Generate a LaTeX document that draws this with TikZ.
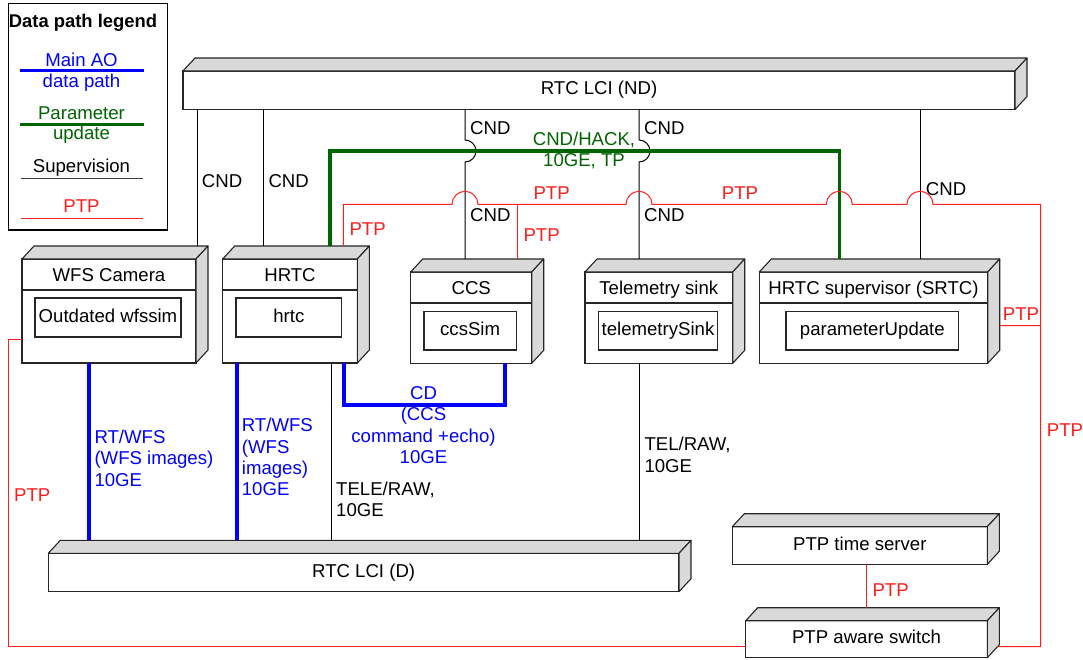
\documentclass[tikz,border=0pt]{standalone}
\usepackage{fontspec}
\setmainfont{Liberation Sans}
\usetikzlibrary{calc}
\definecolor{pgreen}{RGB}{0,100,0}
\definecolor{facegray}{RGB}{217,217,217}
\definecolor{ptpred}{RGB}{255,30,30}
\tikzset{
  front/.style={draw=black!85, fill=white, line width=1.1pt, outer sep=0pt, inner sep=0pt, anchor=north west},
  face/.style={draw=black!85, fill=facegray, line width=1.1pt, line join=round},
  inbox/.style={draw=black!85, line width=1.1pt, outer sep=0pt, inner sep=0pt, anchor=north west, text height=13.3pt, text depth=3.9pt},
  bartext/.style={text height=13.3pt, text depth=3.9pt},
  title/.style={inner sep=0pt, anchor=base},
  lbl/.style={inner sep=0pt, anchor=base west},
  mlbl/.style={inner sep=0pt, anchor=north west, align=left},
  mlblc/.style={inner sep=0pt, anchor=north, align=center},
  sup/.style={draw=black, line width=1pt},
  param/.style={draw=pgreen, line width=3.6pt},
  mainao/.style={draw=blue, line width=3.6pt},
  ptp/.style={draw=ptpred, line width=1pt},
}
\newcommand\mkcube[1]{%
  \draw[face] (#1.north west) -- ++(12,-13) -- ($(#1.north east)+(12,-13)$) -- (#1.north east) -- cycle;
  \draw[face] (#1.north east) -- ++(12,-13) -- ($(#1.south east)+(12,-13)$) -- (#1.south east) -- cycle;}
\begin{document}
\begin{tikzpicture}[x=1pt,y=-1pt,font=\fontsize{18.6pt}{21.2pt}\selectfont]
\useasboundingbox[fill=white] (0,0) rectangle (1083,659);

% ---------- legend ----------
\node[draw=black, line width=1.2pt, minimum width=159pt, minimum height=226.7pt, anchor=north west, outer sep=0pt, inner sep=0pt] (legend) at (8.3,3.3) {};
\node[title, font=\fontsize{18.4pt}{21.2pt}\selectfont\bfseries] (legtitle) at (83,27.5) {Data path legend};
\node[title, text=blue] (legmain1) at (81.5,66.4) {Main AO};
\node[title, text=blue] (legmain2) at (81.5,87.1) {data path};
\node[title, text=pgreen] (legpar1) at (81.5,119.8) {Parameter};
\node[title, text=pgreen] (legpar2) at (81.5,139.8) {update};
\node[title] (legsup) at (81.5,172.4) {Supervision};
\node[title, text=ptpred] (legptp) at (81.5,212.4) {PTP};
\draw[mainao, line width=3.4pt] (20,70.7) -- (144,70.7);
\draw[param, line width=3.4pt] (20,124.3) -- (144,124.3);
\draw[draw=black!75, line width=1.3pt] (21,178.3) -- (143,178.3);
\draw[ptp] (21,218.3) -- (143,218.3);

% ---------- boxes ----------
\node[front, bartext, minimum width=832pt, minimum height=38.5pt] (nd) at (183,71) {RTC LCI (ND)};
\node[front, minimum width=174pt, minimum height=104pt] (wfs) at (22,259) {};
\node[front, minimum width=134.6pt, minimum height=104pt] (hrtc) at (222.7,259) {};
\node[front, minimum width=121pt, minimum height=91.3pt] (ccs) at (410.7,272) {};
\node[front, minimum width=147.7pt, minimum height=91.3pt] (tel) at (585,272) {};
\node[front, minimum width=228.4pt, minimum height=91.3pt] (srtc) at (759.3,272) {};
\node[front, bartext, minimum width=630.7pt, minimum height=38.4pt] (lcid) at (48.3,553.3) {RTC LCI (D)};
\node[front, bartext, minimum width=255pt, minimum height=37.6pt] (ts) at (732.3,526.7) {PTP time server};
\node[front, bartext, minimum width=241.6pt, minimum height=37pt] (sw) at (745.7,620.7) {PTP aware switch};
\foreach \b in {nd,wfs,hrtc,ccs,tel,srtc,lcid,ts,sw} {\mkcube{\b}}

% header separators
\foreach \b in {wfs,hrtc,ccs,tel,srtc} {
  \draw[draw=black!85, line width=1.1pt] ($(\b.north west)+(0,31)$) -- ($(\b.north east)+(0,31)$);
}
% titles
\node[title] (wfs-t) at (109,281.6) {WFS Camera};
\node[title] (hrtc-t) at (290,281.6) {HRTC};
\node[title] (ccs-t) at (471.2,294.6) {CCS};
\node[title] (tel-t) at (658.8,294.6) {Telemetry sink};
\node[title] (srtc-t) at (873.5,294.6) {HRTC supervisor (SRTC)};
% inner components
\node[inbox, minimum width=146pt, minimum height=39pt] (wfs-i) at (35,298) {Outdated wfssim};
\node[inbox, minimum width=105.7pt, minimum height=39pt] (hrtc-i) at (236,298) {hrtc};
\node[inbox, minimum width=92.3pt, minimum height=38.3pt] (ccs-i) at (424,311.7) {ccsSim};
\node[inbox, minimum width=119.4pt, minimum height=38.3pt] (tel-i) at (598.3,311.7) {telemetrySink};
\node[inbox, minimum width=172.7pt, minimum height=38.3pt] (srtc-i) at (786,311.7) {parameterUpdate};

% ---------- supervision (CND) ----------
\draw[sup] ($(nd.south west)+(14,0)$) -- ($(wfs.north east)+(1,-13)$);
\draw[sup] ($(nd.south west)+(80.3,0)$) -- ($(hrtc.north west)+(40.6,-13)$);
\draw[sup] ($(nd.south west)+(282,0)$) -- (465,140) arc[start angle=90, end angle=-90, radius=11pt] -- ($(ccs.north west)+(54.3,-13)$);
\draw[sup] ($(nd.south west)+(456,0)$) -- (639,140) arc[start angle=90, end angle=-90, radius=11pt] -- ($(tel.north west)+(54,-13)$);
\draw[sup] ($(nd.south west)+(737,0)$) -- ($(srtc.north west)+(160.7,-13)$);
\draw[sup] ($(hrtc.south west)+(108.3,0)$) -- ($(lcid.north west)+(282.7,-13)$);
\draw[sup] ($(tel.south west)+(54,0)$) -- ($(lcid.north west)+(590.7,-13)$);

% ---------- parameter update ----------
\draw[param] ($(hrtc.north west)+(107.3,-13)$) -- (330,151) -- (839.3,151) -- ($(srtc.north west)+(80,-13)$);

% ---------- main AO data path ----------
\draw[mainao] ($(wfs.south west)+(67,0)$) -- ($(lcid.north west)+(40.7,-13)$);
\draw[mainao] ($(hrtc.south west)+(14,0)$) -- ($(lcid.north west)+(188.4,-13)$);
\draw[mainao] ($(hrtc.south west)+(121.3,0)$) -- (344,405) -- (505,405) -- ($(ccs.south west)+(94.3,0)$);

% ---------- PTP ----------
\coordinate (ptpj) at (517.7,204.3);
\coordinate (ptpr) at (1040.7,325.7);
\draw[ptp] ($(hrtc.north west)+(120.6,-13)$) -- (343.3,204.3) -- (452,204.3)
  arc[start angle=180, end angle=0, radius=13pt] -- (626,204.3)
  arc[start angle=180, end angle=0, radius=13pt] -- (826.3,204.3)
  arc[start angle=180, end angle=0, radius=13pt] -- (907,204.3)
  arc[start angle=180, end angle=0, radius=13pt] -- (1040.7,204.3)
  -- (1040.7,646.7) -- ($(sw.south east)+(10,-11)$);
\draw[ptp] (ptpj) -- ($(ccs.north west)+(107,-13)$);
\draw[ptp] ($(srtc.south east)+(12,-37.6)$) -- (ptpr);
\draw[ptp] ($(wfs.south west)+(0,-24)$) -- (8.3,339) -- (8.3,646.7) -- ($(sw.south west)+(0,-11)$);
\draw[ptp] ($(ts.south west)+(134.4,0)$) -- ($(sw.north west)+(121,-13)$);

% ---------- labels ----------
\node[lbl] (l1) at (201.7,187.8) {CND};
\node[lbl] (l2) at (268.3,187.8) {CND};
\node[lbl] (l3) at (470,134.2) {CND};
\node[lbl] (l4) at (470,221.8) {CND};
\node[lbl] (l5) at (644,134.2) {CND};
\node[lbl] (l6) at (644,221.8) {CND};
\node[lbl] (l7) at (925.7,195.6) {CND};
\node[mlblc, text=pgreen] (l8) at (584,132) {CND/HACK,\\10GE, TP};
\node[lbl, text=ptpred] (p1) at (349.3,235.5) {PTP};
\node[lbl, text=ptpred] (p2) at (533.3,199.5) {PTP};
\node[lbl, text=ptpred] (p3) at (523.3,241.5) {PTP};
\node[lbl, text=ptpred] (p4) at (721.7,199.5) {PTP};
\node[lbl, text=ptpred] (p5) at (1002.7,320) {PTP};
\node[lbl, text=ptpred] (p6) at (1046.7,436.8) {PTP};
\node[lbl, text=ptpred] (p7) at (14,501.7) {PTP};
\node[lbl, text=ptpred] (p8) at (872.3,596.8) {PTP};
\node[mlbl, text=blue] (b1) at (94.3,430) {RT/WFS\\(WFS images)\\10GE};
\node[mlbl, text=blue] (b2) at (241.7,418.3) {RT/WFS\\(WFS\\images)\\10GE};
\node[mlblc, text=blue] (b3) at (423.5,386.6) {CD\\(CCS\\command +echo)\\10GE};
\node[mlbl] (t1) at (336,481.6) {TELE/RAW,\\10GE};
\node[mlbl] (t2) at (644.3,437.3) {TEL/RAW,\\10GE};
\end{tikzpicture}
\end{document}
